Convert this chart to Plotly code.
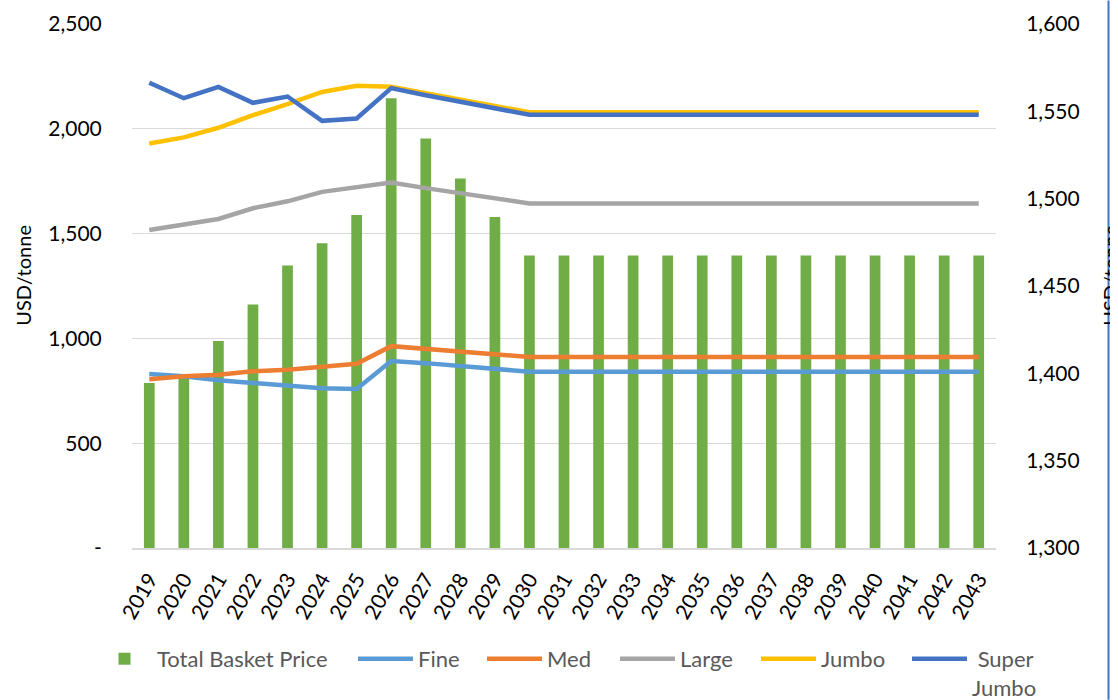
import plotly.graph_objects as go

years = [str(y) for y in range(2019, 2044)]

basket = [787, 815, 987, 1162, 1348, 1454, 1589, 2146, 1954, 1763, 1579] + [1395] * 14
fine = [830, 819, 800, 787, 773, 762, 759, 892, 882, 868, 854] + [841] * 14
med = [805, 819, 827, 843, 851, 867, 879, 963, 951, 938, 924] + [911] * 14
large = [1517, 1544, 1570, 1621, 1654, 1699, 1721, 1744, 1717, 1692, 1668] + [1644] * 14
jumbo = [1930, 1959, 2005, 2065, 2118, 2176, 2205, 2201, 2170, 2140, 2110] + [2079] * 14
super_jumbo = [2220, 2146, 2200, 2124, 2154, 2038, 2049, 2194, 2160, 2128, 2095] + [2067] * 14

left_ticks = [0, 500, 1000, 1500, 2000, 2500]
left_ticktext = ["-", "500", "1,000", "1,500", "2,000", "2,500"]
right_ticks = [1300, 1350, 1400, 1450, 1500, 1550, 1600]
right_ticktext = ["1,300", "1,350", "1,400", "1,450", "1,500", "1,550", "1,600"]

FONT = "Lato"
W, H = 1110, 700
PL, PR, PT, PB = 132, 996, 23.5, 548
pw, ph = PR - PL, PB - PT


def px(x):
    return (x - PL) / pw


def py(y):
    return (PB - y) / ph


fig = go.Figure()
fig.add_trace(go.Bar(x=years, y=basket, name="Total Basket Price", marker_color="#70AD47",
                     marker_line_width=0, legend="legend"))
lines = [("Fine", fine, "#5B9BD5", 353), ("Med", med, "#ED7D31", 482),
         ("Large", large, "#A5A5A5", 615), ("Jumbo", jumbo, "#FFC000", 756),
         ("\u00a0Super<br>Jumbo", super_jumbo, "#4472C4", 907)]
legend_x = [92]
for i, (name, vals, col, lx) in enumerate(lines):
    fig.add_trace(go.Scatter(x=years, y=vals, name=name, mode="lines",
                             line=dict(color=col, width=4.5), legend=f"legend{i + 2}"))
    legend_x.append(lx)
fig.add_trace(go.Scatter(x=[years[0]], y=[1300], yaxis="y2", mode="lines",
                         line=dict(width=0), showlegend=False, hoverinfo="skip"))

leg_common = dict(orientation="v", xanchor="left", yanchor="top", y=py(638),
                  font=dict(family=FONT, size=22, color="#595959"),
                  itemwidth=55, bgcolor="rgba(0,0,0,0)", borderwidth=0, valign="top",
                  tracegroupgap=0)
legends = {}
for i, lx in enumerate(legend_x):
    key = "legend" if i == 0 else f"legend{i + 1}"
    legends[key] = dict(leg_common, x=px(lx))

fig.update_layout(
    width=W, height=H,
    margin=dict(l=PL, r=W - PR, t=PT, b=H - PB, autoexpand=False),
    plot_bgcolor="white", paper_bgcolor="white",
    font=dict(family=FONT, size=21, color="#000000"),
    bargap=0.69,
    xaxis=dict(type="category", range=[-0.5, 24.5], tickangle=-60, showgrid=False,
               showline=True, linecolor="#D9D9D9", linewidth=1.5,
               ticks="outside", ticklen=9, tickcolor="rgba(0,0,0,0)",
               tickfont=dict(size=21), automargin=False),
    yaxis=dict(range=[0, 2500], tickvals=left_ticks, ticktext=left_ticktext,
               showgrid=True, gridcolor="#D9D9D9", gridwidth=1.3, zeroline=False,
               ticks="outside", ticklen=25, tickcolor="rgba(0,0,0,0)",
               tickfont=dict(size=21), automargin=False),
    yaxis2=dict(range=[1300, 1600], tickvals=right_ticks, ticktext=right_ticktext,
                overlaying="y", side="right", showgrid=False, zeroline=False,
                ticks="outside", ticklen=25, tickcolor="rgba(0,0,0,0)",
                tickfont=dict(size=21), automargin=False),
    showlegend=True,
    **legends,
)
fig.add_annotation(text="USD/tonne", textangle=-90, xref="paper", yref="paper",
                   x=px(23), y=py(275.5), xanchor="center", yanchor="middle",
                   showarrow=False, font=dict(size=20))
fig.add_annotation(text="USD/tonne", textangle=-90, xref="paper", yref="paper",
                   x=px(1110), y=py(275.5), xanchor="center", yanchor="middle",
                   showarrow=False, font=dict(size=20))
fig.add_shape(type="line", xref="paper", yref="paper", layer="above",
              x0=px(1108.5), x1=px(1108.5), y0=py(H), y1=py(0),
              line=dict(color="#4472C4", width=2))
fig.write_html("out.html", config={"displayModeBar": False},
               post_script="document.body.style.margin='0';")
